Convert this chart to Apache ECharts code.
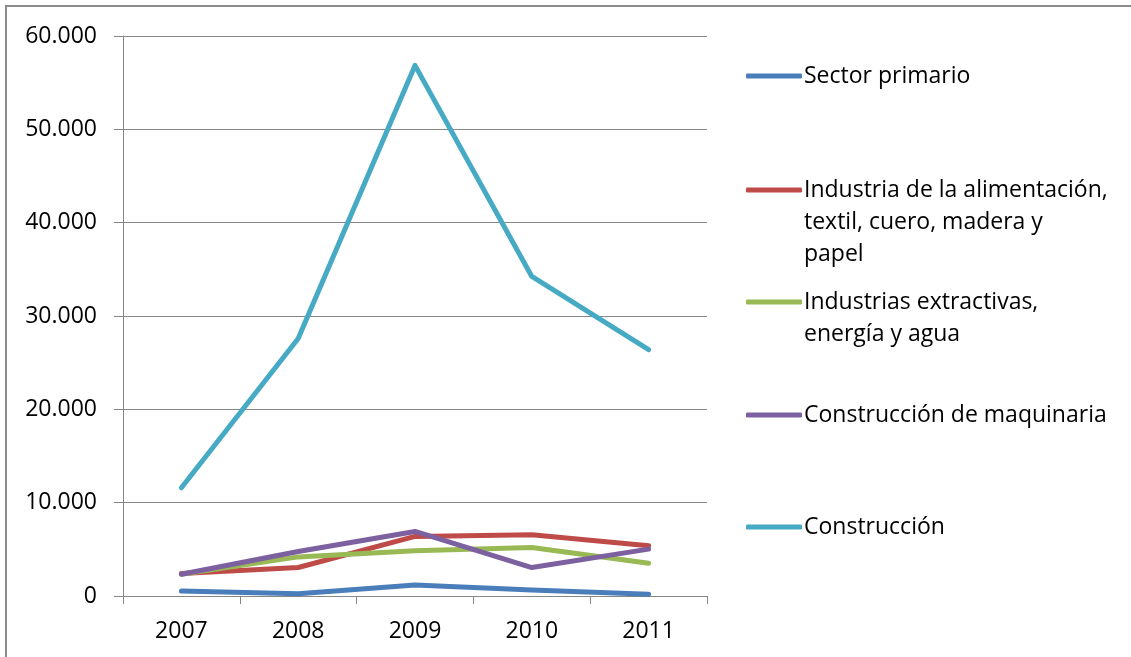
<!DOCTYPE html>
<html>
<head>
<meta charset="utf-8">
<script src="https://cdn.jsdelivr.net/npm/echarts@6/dist/echarts.min.js"></script>
<style>
  html, body { margin: 0; padding: 0; background: #fff; }
  #chart { width: 1131px; height: 657px; }
</style>
</head>
<body>
<div id="chart"></div>
<script>
const years = ['2007', '2008', '2009', '2010', '2011'];
const seriesNames = [
  'Sector primario',
  'Industria de la alimentación,\ntextil, cuero, madera y\npapel',
  'Industrias extractivas,\nenergía y agua',
  'Construcción de maquinaria',
  'Construcción'
];
const primario = [540, 250, 1180, 650, 180];
const alimentacion = [2400, 3050, 6380, 6560, 5380];
const extractivas = [2330, 4190, 4840, 5200, 3510];
const maquinaria = [2330, 4760, 6920, 3050, 5020];
const construccion = [11590, 27590, 56850, 34240, 26400];
const yTicks = [0, 10000, 20000, 30000, 40000, 50000, 60000];

const colors = ['#4A7EBB', '#BE4B48', '#98B954', '#7D60A0', '#46AAC5'];
const values = [primario, alimentacion, extractivas, maquinaria, construccion];
const legendY = [76, 190, 302, 415, 527]; // icon centre of each legend entry
const font = '"Open Sans", "Liberation Sans", sans-serif';
const fontSize = 23;
const lineH = 32;

const chart = echarts.init(document.getElementById('chart'));

// one legend per entry so the icon lines up with the first text line
const legends = seriesNames.map((name, i) => {
  const n = name.split('\n').length;
  const total = 2 * n - 1;
  return {
    data: [name],
    left: 746,
    top: legendY[i] - (total * lineH) / 2,
    padding: 0,
    icon: 'roundRect',
    itemWidth: 56,
    itemHeight: 5,
    selectedMode: false,
    formatter: t => '\n'.repeat(n - 1) + t,
    textStyle: { fontFamily: font, fontSize: fontSize, color: '#000', lineHeight: lineH, padding: [0, 0, 0, -3] }
  };
});

chart.setOption({
  backgroundColor: '#fff',
  animation: false,
  color: colors,
  graphic: [{
    type: 'rect',
    shape: { x: 6, y: 6, width: 1300, height: 800 },
    style: { fill: 'none', stroke: '#8c8c8c', lineWidth: 2 },
    silent: true
  }],
  legend: legends,
  grid: { left: 123, right: 424, top: 36, bottom: 61 },
  xAxis: {
    type: 'category',
    data: years,
    boundaryGap: true,
    axisLine: { lineStyle: { color: '#868686', width: 1 } },
    axisTick: { show: true, length: 8, lineStyle: { color: '#868686' } },
    axisLabel: { fontFamily: font, fontSize: fontSize, color: '#000', margin: 24 }
  },
  yAxis: {
    type: 'value',
    min: yTicks[0],
    max: yTicks[yTicks.length - 1],
    interval: 10000,
    axisLine: { show: true, lineStyle: { color: '#868686', width: 1 } },
    axisTick: { show: true, length: 9, lineStyle: { color: '#868686' } },
    splitLine: { lineStyle: { color: '#868686', width: 1 } },
    axisLabel: {
      fontFamily: font, fontSize: fontSize, color: '#000', margin: 26,
      formatter: v => v === 0 ? '0' : (v / 1000) + '.000'
    }
  },
  series: seriesNames.map((name, i) => ({
    name,
    type: 'line',
    data: values[i],
    showSymbol: false,
    symbol: 'none',
    lineStyle: { width: 5, color: colors[i], cap: 'round', join: 'round' },
    itemStyle: { color: colors[i] }
  }))
});
</script>
</body>
</html>
